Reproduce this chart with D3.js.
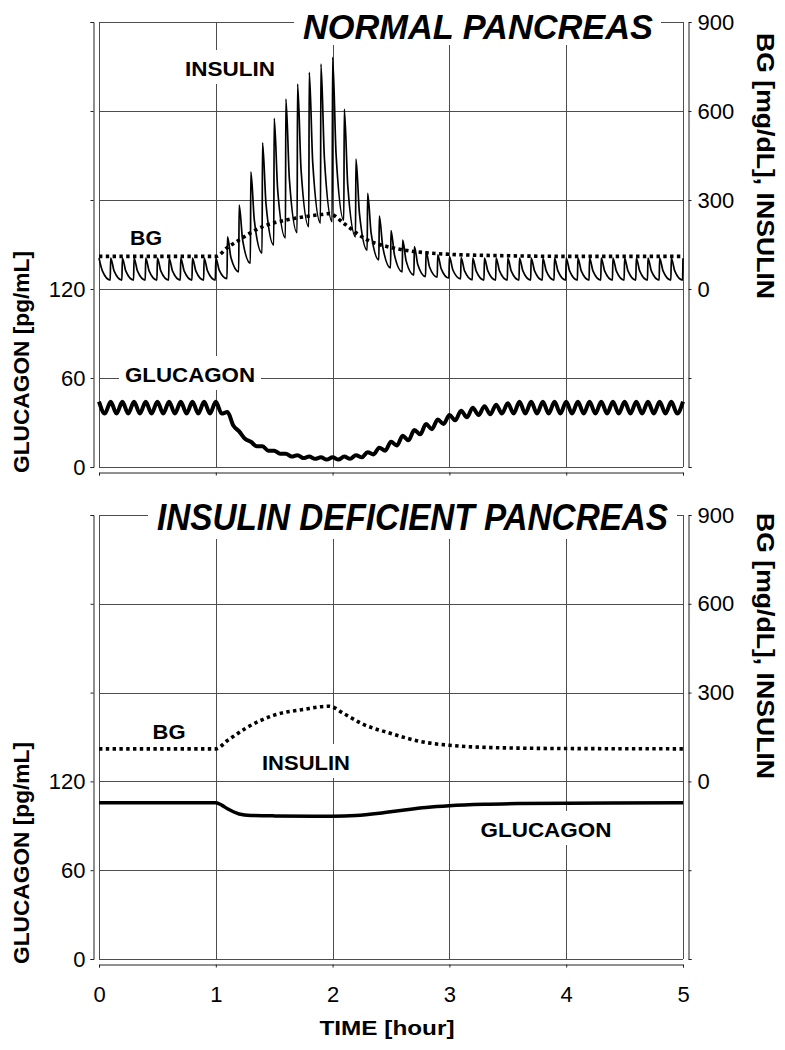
<!DOCTYPE html>
<html><head><meta charset="utf-8">
<script src="https://cdn.jsdelivr.net/npm/d3@7"></script>
<style>
body{margin:0;background:#fff}
svg{display:block}
text{font-family:"Liberation Sans",Arial,Helvetica,sans-serif}
</style>
</head><body>
<svg id="chart" width="785" height="1050"></svg>
<script>
// ---------------- DATA ----------------
const hourTicks = [0, 1, 2, 3, 4, 5];
const hourLabels = ["0", "1", "2", "3", "4", "5"];
const glucagonTicks = [0, 60, 120, 180, 240, 300];
const glucagonTickLabels = ["0", "60", "120", "", "", ""];
const bgTicks = [-600, -300, 0, 300, 600, 900];
const bgTickLabels = ["", "", "0", "300", "600", "900"];

// Normal pancreas: insulin pulses every 0.1 h (peak at k/10, decay, trough just before next peak)
const pulseTimes = d3.range(0, 51).map(k => k / 10);
const insulinPeak = [104,104,104,104,104,104,104,104,104,104,104,
  176,283,395,493,575,640,691,730,758,781,606,438,322,246,197,165,143,126,115,109,106,
  104,104,104,104,104,104,104,104,104,104,104,104,104,104,104,104,104,104,104];
const insulinMid = [60,60,60,60,60,60,60,60,60,60,
  63,105,165,231,286,333,370,402,425,439,452,348,254,188,141,114,94,82,74,68,64,61,
  60,60,60,60,60,60,60,60,60,60,60,60,60,60,60,60,60,60];
const insulinTrough = [30,30,30,30,30,30,30,30,30,30,
  35,58,87,121,148,172,190,210,222,227,232,176,131,98,71,58,47,42,40,37,34,31,
  30,30,30,30,30,30,30,30,30,30,30,30,30,30,30,30,30,30];

// Normal pancreas: glucagon oscillation (high at k/10, low at k/10 + 0.05)
const glucagonHigh = [44,44,44,44,44,44,44,44,44,44,44,
  37,24,17,14,11,9,8,7,6.5,6.5,7,8,10,13,17,21,25,29,32,35,38,40,41,42,43,
  44,44,44,44,44,44,44,44,44,44,44,44,44,44,44];
const glucagonLow = [36,36,36,36,36,36,36,36,36,36,
  36,28,19,14,11,9,7,6,5.5,5,5,5.5,6.5,8.5,11,14.5,18,22,25.5,29,31.5,33.5,35,35.5,36,
  36,36,36,36,36,36,36,36,36,36,36,36,36,36,36];

// Normal pancreas: blood glucose
const bgNormalTime = [0,1,1.1,1.2,1.3,1.4,1.5,1.6,1.7,1.8,1.9,1.97,2.1,2.2,2.3,2.4,2.5,2.6,2.8,3.0,3.5,4,5];
const bgNormal = [110,110,140,165,190,210,223,232,240,246,251,254,220,190,165,150,140,132,122,117,112,110,110];

// Insulin deficient pancreas: blood glucose and glucagon
const bgDefTime = [0,1,1.1,1.25,1.5,1.75,1.97,2.1,2.25,2.5,2.75,3,3.5,4,5];
const bgDef = [110,110,138,178,224,243,254,228,195,162,135,122,113,111,110];
const glucDefTime = [0,1,1.05,1.1,1.15,1.2,1.3,1.5,2.0,2.2,2.4,2.6,2.8,3.0,3.3,3.6,4.0,5.0];
const glucDef = [105.5,105.5,104,101.5,99.5,98,97,96.7,96.5,97,98.5,100.5,102.3,103.5,104.5,105,105.3,105.5];

// ---------------- DRAW ----------------
const svg = d3.select("#chart");
const x = d3.scaleLinear().domain([0, 5]).range([99, 683]);

function buildInsulin() {
  const pts = [];
  for (let k = 0; k < insulinTrough.length; k++) {
    const t = pulseTimes[k];
    pts.push([t, insulinPeak[k]]);
    pts.push([t + 0.03, insulinMid[k]]);
    pts.push([t + 0.096, insulinTrough[k]]);
  }
  pts.push([pulseTimes[insulinTrough.length], insulinPeak[insulinTrough.length]]);
  return pts;
}
function buildGlucagon() {
  const pts = [];
  for (let k = 0; k < glucagonLow.length; k++) {
    pts.push([pulseTimes[k], glucagonHigh[k]]);
    pts.push([pulseTimes[k] + 0.05, glucagonLow[k]]);
  }
  pts.push([pulseTimes[glucagonLow.length], glucagonHigh[glucagonLow.length]]);
  return pts;
}

function panel(cfg) {
  const yL = d3.scaleLinear().domain([0, 300]).range([cfg.bottom, cfg.top]);
  const yR = d3.scaleLinear().domain([-600, 900]).range([cfg.bottom, cfg.top]);
  const g = svg.append("g");

  // grid
  g.append("g").selectAll("line").data(glucagonTicks).join("line")
    .attr("x1", x(0)).attr("x2", x(5))
    .attr("y1", d => Math.round(yL(d)) + 0.5).attr("y2", d => Math.round(yL(d)) + 0.5)
    .attr("stroke", "#4d4d4d").attr("stroke-width", 1);
  g.append("g").selectAll("line").data(hourTicks).join("line")
    .attr("x1", d => Math.round(x(d)) + 0.5).attr("x2", d => Math.round(x(d)) + 0.5)
    .attr("y1", cfg.top).attr("y2", cfg.bottom)
    .attr("stroke", "#4d4d4d").attr("stroke-width", 1);

  // axes
  const la = g.append("g").attr("transform", "translate(93.5,0)")
    .call(d3.axisLeft(yL).tickValues(glucagonTicks).tickFormat((d, i) => glucagonTickLabels[i])
      .tickSize(3).tickSizeOuter(3).tickPadding(5));
  const ra = g.append("g").attr("transform", "translate(688.5,0)")
    .call(d3.axisRight(yR).tickValues(bgTicks).tickFormat((d, i) => bgTickLabels[i])
      .tickSize(3).tickSizeOuter(3).tickPadding(6));
  const xa = g.append("g").attr("transform", `translate(0,${cfg.xAxisY + 0.5})`)
    .call(d3.axisBottom(x).tickValues(hourTicks)
      .tickFormat((d, i) => cfg.xLabels ? hourLabels[i] : "")
      .tickSize(3).tickSizeOuter(3).tickPadding(19));
  [la, ra, xa].forEach(a => {
    a.selectAll("text").attr("font-size", 22).attr("fill", "#000")
      .style("font-family", '"Liberation Sans",Arial,sans-serif');
    a.selectAll("path,line").attr("stroke", "#222");
  });

  // title with white background
  g.append("rect").attr("x", cfg.title.bx0).attr("y", cfg.title.by0)
    .attr("width", cfg.title.bx1 - cfg.title.bx0).attr("height", cfg.title.by1 - cfg.title.by0)
    .attr("fill", "#fff");
  g.append("text")
    .attr("transform", `translate(${cfg.title.x},${cfg.title.y}) scale(1,${cfg.title.sy})`)
    .attr("font-size", cfg.title.size).attr("font-weight", "bold").attr("font-style", "italic")
    .attr("textLength", cfg.title.len).attr("lengthAdjust", "spacingAndGlyphs")
    .text(cfg.title.text);

  // series labels with white boxes
  cfg.labels.forEach(l => {
    g.append("rect").attr("x", l.cx - l.len / 2 - 6).attr("y", l.y - 26)
      .attr("width", l.len + 12).attr("height", 34).attr("fill", "#fff");
    g.append("text").attr("x", l.cx - l.len / 2).attr("y", l.y)
      .attr("font-size", 21).attr("font-weight", "bold")
      .attr("textLength", l.len).attr("lengthAdjust", "spacingAndGlyphs").text(l.text);
  });

  // axis titles
  g.append("text").attr("transform", `translate(29,${cfg.leftTitleY}) rotate(-90)`)
    .attr("text-anchor", "middle").attr("font-size", 22).attr("font-weight", "bold")
    .attr("textLength", 222).attr("lengthAdjust", "spacingAndGlyphs")
    .text("GLUCAGON [pg/mL]");
  g.append("text").attr("transform", `translate(757,${cfg.rightTitleY}) rotate(90)`)
    .attr("text-anchor", "middle").attr("font-size", 23).attr("font-weight", "bold")
    .attr("textLength", 266).attr("lengthAdjust", "spacingAndGlyphs")
    .text("BG [mg/dL], INSULIN");

  return {g, yL, yR};
}

// ---- top panel ----
const topP = panel({
  top: 22, bottom: 467, xAxisY: 472, xLabels: false,
  title: {text: "NORMAL PANCREAS", x: 303, y: 39, size: 33, sy: 1.08, len: 350, bx0: 294, bx1: 661, by0: 0, by1: 45},
  labels: [
    {text: "INSULIN", cx: 230, y: 76, len: 90},
    {text: "BG", cx: 146, y: 245, len: 32},
    {text: "GLUCAGON", cx: 190, y: 382, len: 130}
  ],
  leftTitleY: 362, rightTitleY: 166
});

topP.g.append("path").datum(bgNormalTime.map((t, i) => [t, bgNormal[i]]))
  .attr("d", d3.line().x(d => x(d[0])).y(d => topP.yR(d[1])).curve(d3.curveMonotoneX))
  .attr("fill", "none")
  .attr("stroke", "#000").attr("stroke-width", 3.6).attr("stroke-dasharray", "3.4,3.4");
topP.g.append("path").datum(buildInsulin())
  .attr("d", d3.line().x(d => x(d[0])).y(d => topP.yR(d[1])).curve(d3.curveMonotoneX))
  .attr("fill", "none").attr("stroke", "#000").attr("stroke-width", 1.7);
topP.g.append("path").datum(buildGlucagon())
  .attr("d", d3.line().x(d => x(d[0])).y(d => topP.yL(d[1])).curve(d3.curveMonotoneX))
  .attr("fill", "none").attr("stroke", "#000").attr("stroke-width", 4);

// ---- bottom panel ----
const botP = panel({
  top: 515, bottom: 959, xAxisY: 964, xLabels: true,
  title: {text: "INSULIN DEFICIENT PANCREAS", x: 157, y: 530, size: 32, sy: 1.15, len: 511, bx0: 148, bx1: 677, by0: 488, by1: 539},
  labels: [
    {text: "BG", cx: 169, y: 739, len: 33},
    {text: "INSULIN", cx: 306, y: 770, len: 88},
    {text: "GLUCAGON", cx: 546, y: 837, len: 131}
  ],
  leftTitleY: 853, rightTitleY: 646
});
botP.g.append("path").datum(bgDefTime.map((t, i) => [t, bgDef[i]]))
  .attr("d", d3.line().x(d => x(d[0])).y(d => botP.yR(d[1])).curve(d3.curveMonotoneX))
  .attr("fill", "none").attr("stroke", "#000").attr("stroke-width", 3.6).attr("stroke-dasharray", "3.4,3.4");
botP.g.append("path").datum(glucDefTime.map((t, i) => [t, glucDef[i]]))
  .attr("d", d3.line().x(d => x(d[0])).y(d => botP.yL(d[1])).curve(d3.curveMonotoneX))
  .attr("fill", "none").attr("stroke", "#000").attr("stroke-width", 3.5);

svg.append("text").attr("x", 387).attr("y", 1035).attr("text-anchor", "middle")
  .attr("font-size", 21).attr("font-weight", "bold")
  .attr("textLength", 135).attr("lengthAdjust", "spacingAndGlyphs").text("TIME [hour]");
</script>
</body></html>
